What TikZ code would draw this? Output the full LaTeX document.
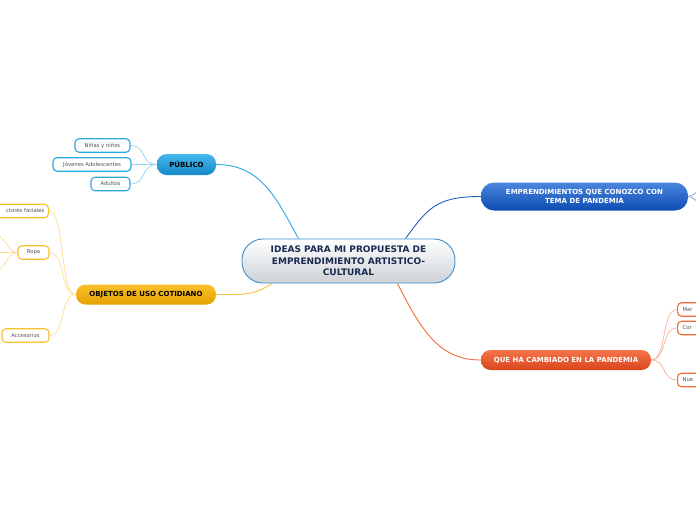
\documentclass[tikz,border=0pt]{standalone}
\usepackage{fontspec}
\setmainfont{DejaVu Sans}
\usetikzlibrary{backgrounds}
\definecolor{cblue}{HTML}{3A8FD0}
\definecolor{cgray}{HTML}{CDD2D6}
\definecolor{navy}{HTML}{1A2A50}
\definecolor{pubtop}{HTML}{45B8EC}
\definecolor{pubbot}{HTML}{1688C8}
\definecolor{publine}{HTML}{2AA8E2}
\definecolor{publight}{HTML}{95D2F0}
\definecolor{emptop}{HTML}{4A86DC}
\definecolor{empbot}{HTML}{0E4CB4}
\definecolor{empline}{HTML}{1F5FC8}
\definecolor{ortop}{HTML}{F5744A}
\definecolor{orbot}{HTML}{D8461E}
\definecolor{orline}{HTML}{F26B3A}
\definecolor{orlight}{HTML}{F8B29A}
\definecolor{yetop}{HTML}{F9C02A}
\definecolor{yebot}{HTML}{E6A000}
\definecolor{yeline}{HTML}{F8C23A}
\definecolor{yelight}{HTML}{FCDD96}
\definecolor{txtgray}{HTML}{505050}
\begin{document}
\begin{tikzpicture}[x=1pt,y=-1pt,
  mainbox/.style={draw=cblue, line width=0.9pt, rounded corners=21pt,
    top color=white, bottom color=cgray, minimum width=213pt, minimum height=44pt,
    align=center, inner sep=0pt, text=navy, font=\fontsize{9}{11.5}\selectfont\bfseries},
  topicbox/.style={rounded corners=9.5pt, minimum height=20pt, inner sep=0pt,
    align=center, font=\fontsize{7}{9.4}\selectfont\bfseries},
  childbox/.style={draw, fill=white, line width=1.1pt, rounded corners=4pt,
    minimum height=13.5pt, inner sep=0pt, text=txtgray,
    font=\fontsize{5.3}{6.3}\selectfont},
  conn/.style={line width=0.9pt},
  subconn/.style={line width=0.7pt}]
\useasboundingbox (0,0) rectangle (696,520);
\clip (0,0) rectangle (696,520);

% central
\node[mainbox] (c) at (348.5,261) {IDEAS PARA MI PROPUESTA DE\\EMPRENDIMIENTO ARTISTICO-\\CULTURAL};

% PUBLICO
\node[topicbox, top color=pubtop, bottom color=pubbot, minimum width=59pt, minimum height=21pt] (p) at (186.5,164.5) {PÚBLICO};
\node[childbox, draw=publine, minimum width=55pt] (p1) at (102.5,145.5) {Niñas y niños};
\node[childbox, draw=publine, minimum width=78pt] (p2) at (92,164.5) {Jóvenes Adolescentes};
\node[childbox, draw=publine, minimum width=39pt] (p3) at (110.5,184) {Adultos};

% EMPRENDIMIENTOS
\node[topicbox, top color=emptop, bottom color=empbot, text=white, minimum width=207pt, minimum height=28pt, rounded corners=13pt] (e) at (584.5,196.5) {EMPRENDIMIENTOS QUE CONOZCO CON\\TEMA DE PANDEMIA};
\coordinate (e1) at (702,190);
\coordinate (e2) at (702,203);

% QUE HA CAMBIADO
\node[topicbox, top color=ortop, bottom color=orbot, text=white, minimum width=170pt] (q) at (566,360) {QUE HA CAMBIADO EN LA PANDEMIA};
\node[childbox, draw=orline, anchor=west, minimum width=60pt, text width=50pt, align=left] (q1) at (677,309.5) {Mar};
\node[childbox, draw=orline, anchor=west, minimum width=60pt, text width=50pt, align=left] (q2) at (677,328) {Cor};
\node[childbox, draw=orline, anchor=west, minimum width=60pt, text width=50pt, align=left] (q3) at (677,380) {Nue};

% OBJETOS
\node[topicbox, top color=yetop, bottom color=yebot, text=black, minimum width=140pt] (o) at (146,294.5) {OBJETOS DE USO COTIDIANO};
\node[childbox, draw=yetop, anchor=east, minimum width=70pt, text width=62pt, align=right] (o1) at (49,211) {ctores faciales};
\node[childbox, draw=yetop, minimum width=31pt] (o2) at (33.5,252.5) {Ropa};
\node[childbox, draw=yetop, minimum width=47pt] (o3) at (25.5,335.5) {Accesorios};
\coordinate (r1) at (-6,234);
\coordinate (r2) at (-6,252.5);
\coordinate (r3) at (-6,272);

\begin{pgfonlayer}{background}
\fill[white] (0,0) rectangle (696,520);
\draw[conn, publine] (p.east) .. controls +(45,0) and +(-22,-40) .. ([xshift=-50pt]c.north);
\draw[conn, empline] ([xshift=57pt]c.north) .. controls +(22,-30) and +(-45,0) .. (e.west);
\draw[conn, orline] ([xshift=49pt]c.south) .. controls +(25,50) and +(-40,0) .. (q.west);
\draw[conn, yeline] ([xshift=-76pt]c.south) .. controls +(-20,12) and +(30,0) .. (o.east);

\foreach \k in {p1,p2,p3}
  \draw[subconn, publight] (p.west) .. controls +(-16,0) and +(16,0) .. (\k.east);
\foreach \k in {q1,q2,q3}
  \draw[subconn, orlight] (q.east) .. controls +(16,0) and +(-16,0) .. (\k.west);
\foreach \k in {o1,o2,o3}
  \draw[subconn, yelight] (o.west) .. controls +(-16,0) and +(16,0) .. (\k.east);
\foreach \k in {r1,r2,r3}
  \draw[subconn, yelight] (o2.west) .. controls +(-10,0) and +(10,0) .. (\k);
\foreach \k in {e1,e2}
  \draw[subconn, empline!60] (e.east) .. controls +(6,0) and +(-6,0) .. (\k);
\end{pgfonlayer}
\end{tikzpicture}
\end{document}
